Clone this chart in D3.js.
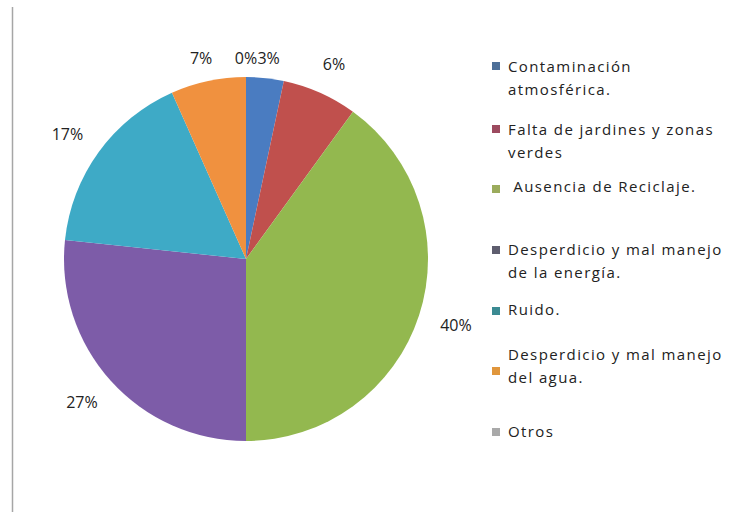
<!DOCTYPE html>
<html>
<head>
<meta charset="utf-8">
<script src="https://cdn.jsdelivr.net/npm/d3@7"></script>
<style>
  html, body { margin: 0; padding: 0; background: #fff; }
  svg { display: block; }
</style>
</head>
<body>
<svg id="chart" width="729" height="512"></svg>
<script>
// ---- data ----
const categories = [
  "Contaminación atmosférica.",
  "Falta de jardines y zonas verdes",
  "Ausencia de Reciclaje.",
  "Desperdicio y mal manejo de la energía.",
  "Ruido.",
  "Desperdicio y mal manejo del agua.",
  "Otros"
];
const legendLines = [
  ["Contaminación", "atmosférica."],
  ["Falta de jardines y zonas", "verdes"],
  [" Ausencia de Reciclaje."],
  ["Desperdicio y mal manejo", "de la energía."],
  ["Ruido."],
  ["Desperdicio y mal manejo", "del agua."],
  ["Otros"]
];
const values = [1, 2, 12, 8, 5, 2, 0];
const percentLabels = ["3%", "6%", "40%", "27%", "17%", "7%", "0%"];
const sliceColors = ["#4a7cc1", "#c0504d", "#93b84f", "#7d5ca8", "#3eaac6", "#f0913f", "#a5a5a5"];
const legendColors = ["#4d6f98", "#9c4a5f", "#9bab5c", "#5e5d6e", "#3b8a92", "#e0963c", "#a9a9a9"];

// ---- layout ----
const svg = d3.select("#chart");
const cx = 246, cy = 259, r = 182;

svg.append("line")
  .attr("x1", 12.5).attr("x2", 12.5).attr("y1", 7).attr("y2", 512)
  .attr("stroke", "#a6a6a6").attr("stroke-width", 1.5);

const pie = d3.pie().sort(null).value(d => d);
const arcs = pie(values);
const arc = d3.arc().innerRadius(0).outerRadius(r);

const g = svg.append("g").attr("transform", `translate(${cx},${cy})`);
g.selectAll("path.slice")
  .data(arcs)
  .join("path")
  .attr("class", "slice")
  .attr("d", arc)
  .attr("fill", (d, i) => sliceColors[i]);

// data labels placed just outside the pie (clamped to the plot area top)
const labelR = r + 23;
const fontSize = 16;
const minY = 58 - cy;
const lbl = g.selectAll("text.lbl")
  .data(arcs)
  .join("text")
  .attr("class", "lbl")
  .attr("font-family", "Open Sans, sans-serif")
  .attr("font-size", fontSize)
  .attr("fill", "#222")
  .attr("text-anchor", "middle")
  .attr("dominant-baseline", "central")
  .text((d, i) => percentLabels[i]);

lbl.each(function(d) {
  const a = (d.startAngle + d.endAngle) / 2;
  const w = this.getComputedTextLength();
  const h = fontSize;
  const s = Math.sin(a), c = Math.cos(a);
  const x = labelR * s + (w / 2) * s;
  const y = Math.max(minY, -labelR * c - (h / 2) * c);
  d3.select(this).attr("x", x).attr("y", y);
});

// ---- legend ----
const legendX = 492, textX = 508;
const markerY = [66, 129, 189, 250, 311, 371, 432];
const firstBaseline = [72, 135, 192, 255, 315, 360, 437];
const lineGap = 23;

const lg = svg.append("g");
categories.forEach((cat, i) => {
  lg.append("rect")
    .attr("x", legendX).attr("y", markerY[i] - 4)
    .attr("width", 8).attr("height", 8)
    .attr("fill", legendColors[i]);
  const t = lg.append("text")
    .attr("font-family", "Open Sans, sans-serif")
    .attr("font-size", 15)
    .attr("letter-spacing", 1.4)
    .attr("fill", "#222")
    .attr("xml:space", "preserve")
    .style("white-space", "pre");
  legendLines[i].forEach((ln, j) => {
    t.append("tspan")
      .attr("x", textX)
      .attr("y", firstBaseline[i] + j * lineGap)
      .text(ln);
  });
});
</script>
</body>
</html>
